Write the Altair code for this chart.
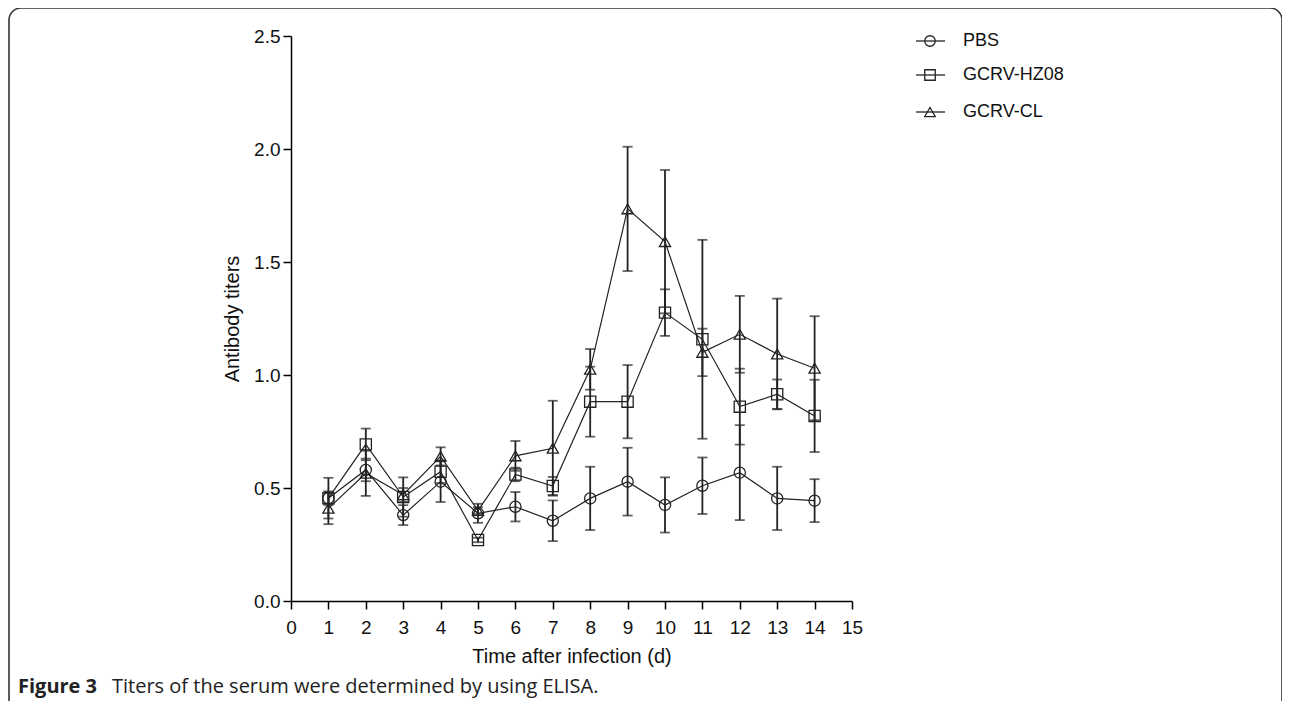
import altair as alt
import pandas as pd

# ---- data ----
days = list(range(1, 15))
series_names = ["PBS", "GCRV-HZ08", "GCRV-CL"]

pbs = [0.455, 0.58, 0.38, 0.528, 0.388, 0.417, 0.355, 0.454, 0.528, 0.425, 0.51, 0.568, 0.454, 0.444]
pbs_err = [0.03, 0.05, 0.044, 0.09, 0.042, 0.065, 0.09, 0.14, 0.15, 0.122, 0.125, 0.21, 0.14, 0.095]

hz08 = [0.455, 0.693, 0.46, 0.572, 0.27, 0.56, 0.509, 0.882, 0.882, 1.276, 1.158, 0.86, 0.915, 0.819]
hz08_err = [0.09, 0.07, 0.087, 0.05, 0.01, 0.03, 0.04, 0.155, 0.162, 0.103, 0.44, 0.168, 0.065, 0.16]

cl = [0.41, 0.565, 0.47, 0.64, 0.40, 0.642, 0.676, 1.025, 1.735, 1.59, 1.10, 1.18, 1.093, 1.03]
cl_err = [0.07, 0.1, 0.03, 0.04, 0.015, 0.066, 0.21, 0.09, 0.275, 0.317, 0.105, 0.17, 0.245, 0.23]

x_ticks = list(range(0, 16))
y_ticks = [0.0, 0.5, 1.0, 1.5, 2.0, 2.5]
shapes = ["circle", "square", "triangle-up"]

x_title = "Time after infection (d)"
y_title = "Antibody titers"
caption_bold = "Figure 3"
caption_rest = "Titers of the serum were determined by using ELISA."

rows = []
for name, vals, errs in zip(series_names, [pbs, hz08, cl], [pbs_err, hz08_err, cl_err]):
    for d, v, e in zip(days, vals, errs):
        rows.append({"series": name, "day": d, "value": v, "lo": v - e, "hi": v + e})
df = pd.DataFrame(rows)

W, H = 561, 565
FONT = "Liberation Sans"

xs = alt.Scale(domain=[0, 15], nice=False, zero=False)
ys = alt.Scale(domain=[0, 2.5], nice=False)
shape_scale = alt.Scale(domain=series_names, range=shapes)

x_axis = alt.Axis(values=x_ticks, tickCount=16, format="d", title=x_title, grid=False,
                  domainColor="black", domainWidth=1.5, tickColor="black", tickWidth=1.5,
                  tickSize=8, labelFont=FONT, labelFontSize=19, labelColor="#111",
                  labelPadding=9, labelOverlap=False,
                  titleFont=FONT, titleFontSize=20, titleFontWeight="normal",
                  titleColor="#111", titleX=W / 2, titleY=55, titleBaseline="middle",
                  labelFlush=False)
y_axis = alt.Axis(values=y_ticks, format=".1f", title=y_title, grid=False,
                  domainColor="black", domainWidth=1.5, tickColor="black", tickWidth=1.5,
                  tickSize=8, labelFont=FONT, labelFontSize=19, labelColor="#111",
                  labelPadding=3, labelOverlap=False,
                  titleFont=FONT, titleFontSize=20, titleFontWeight="normal",
                  titleColor="#111", titleX=-59, titleY=H / 2, titleAngle=-90,
                  titleBaseline="middle", titleAlign="center", labelFlush=False)


def X(field):
    return alt.X(field, type="quantitative", scale=xs, axis=x_axis, title=x_title)


def Y(field):
    return alt.Y(field, type="quantitative", scale=ys, axis=y_axis, title=y_title)


base = alt.Chart(df)

lines = base.mark_line(color="#222", strokeWidth=1.2).encode(
    x=X("day"), y=Y("value"), detail="series:N")

bars = base.mark_rule(color="#222", strokeWidth=1.8).encode(
    x=X("day"), y=Y("lo"), y2="hi:Q")

caps_lo = base.mark_tick(color="#222", orient="horizontal", size=10, thickness=1.8).encode(
    x=X("day"), y=Y("lo"))
caps_hi = base.mark_tick(color="#222", orient="horizontal", size=10, thickness=1.8).encode(
    x=X("day"), y=Y("hi"))

points = base.mark_point(filled=False, color="#222", strokeWidth=1.3, size=125, opacity=1).encode(
    x=X("day"), y=Y("value"),
    shape=alt.Shape("series:N", scale=shape_scale, legend=None))

# ---- manual legend (top right) ----
leg_layers = []
leg_y = [5, 39, 76]
for i, name in enumerate(series_names):
    ldf = pd.DataFrame({"series": [name]})
    lb = alt.Chart(ldf)
    leg_layers.append(lb.mark_rule(color="#222", strokeWidth=1.3).encode(
        x=alt.value(625), x2=alt.value(654), y=alt.value(leg_y[i])))
    leg_layers.append(lb.mark_point(filled=False, color="#222", strokeWidth=1.3, size=110, opacity=1).encode(
        x=alt.value(639), y=alt.value(leg_y[i]),
        shape=alt.Shape("series:N", scale=shape_scale, legend=None)))
    leg_layers.append(lb.mark_text(align="left", baseline="middle", font=FONT, fontSize=18, color="#111").encode(
        x=alt.value(672), y=alt.value(leg_y[i]), text="series:N"))

# ---- figure frame and caption ----
fdf = pd.DataFrame({"a": [0]})
frame = alt.Chart(fdf).mark_rect(filled=False, stroke="#333", strokeWidth=1.6, cornerRadius=12, fill=None).encode(
    x=alt.value(-282), x2=alt.value(991), y=alt.value(-28), y2=alt.value(690))
cap1 = alt.Chart(fdf).mark_text(align="left", baseline="middle", font="Open Sans", fontSize=20,
                                fontWeight="bold", color="#222").encode(
    x=alt.value(-273), y=alt.value(651), text=alt.value(caption_bold))
cap2 = alt.Chart(fdf).mark_text(align="left", baseline="middle", font="Open Sans", fontSize=20,
                                color="#222").encode(
    x=alt.value(-179), y=alt.value(651), text=alt.value(caption_rest))

chart = alt.layer(lines, bars, caps_lo, caps_hi, points, *leg_layers, frame, cap1, cap2).properties(
    width=W, height=H,
    padding={"left": 283, "top": 28, "right": 430, "bottom": 100},
    autosize=alt.AutoSizeParams(type="none"),
).configure(background="white", view=alt.ViewConfig(stroke="transparent", strokeWidth=0))

chart.save("out.html", embed_options={"renderer": "svg", "actions": False})
